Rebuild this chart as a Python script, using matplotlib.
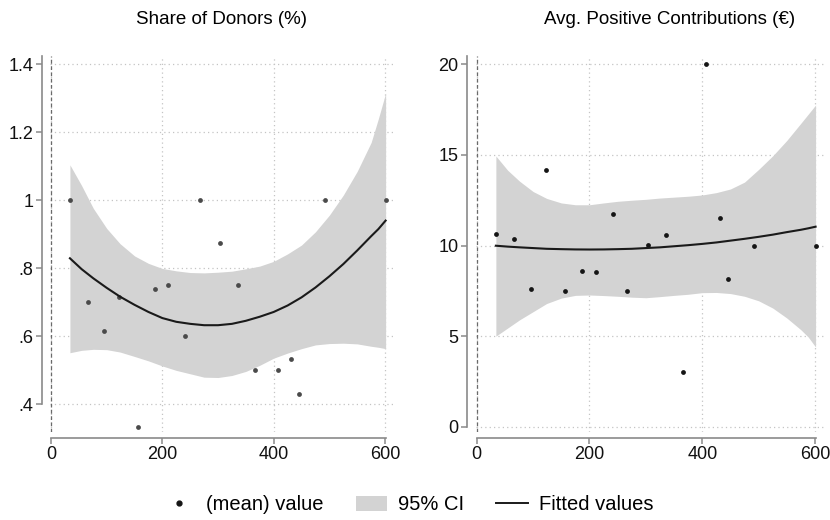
import matplotlib
matplotlib.use("Agg")
import matplotlib.pyplot as plt
from matplotlib.lines import Line2D
from matplotlib.patches import Patch

plt.rcParams['font.family'] = ['Liberation Sans', 'DejaVu Sans']

# group means (one point per group, same x in both panels)
x_obs = [34, 67, 96, 123, 156, 186, 211, 241, 267, 303, 335, 366, 407, 431, 446, 492, 602]
donors_share = [1.0, 0.70, 0.615, 0.715, 0.333, 0.74, 0.75, 0.60, 1.0, 0.875,
                0.75, 0.50, 0.50, 0.533, 0.429, 1.0, 1.0]
contrib_avg = [10.63, 10.34, 7.62, 14.19, 7.49, 8.61, 8.56, 11.76, 7.49, 10.05,
               10.56, 3.0, 20.0, 11.5, 8.17, 9.99, 10.0]

# quadratic fit with 95% CI
x_fit = [34, 55, 76, 100, 124, 150, 175, 200, 225, 250, 275, 300, 325,
         350, 375, 400, 425, 450, 475, 500, 525, 550, 575, 588, 601]
donors_fit = [0.829, 0.797, 0.770, 0.742, 0.716, 0.692, 0.671, 0.653, 0.642, 0.636,
              0.632, 0.632, 0.636, 0.645, 0.657, 0.671, 0.690, 0.714, 0.743, 0.776,
              0.812, 0.852, 0.894, 0.915, 0.940]
donors_hi = [1.104, 1.043, 0.976, 0.917, 0.872, 0.836, 0.814, 0.799, 0.792, 0.787,
             0.786, 0.788, 0.791, 0.798, 0.806, 0.820, 0.842, 0.868, 0.907, 0.956,
             1.015, 1.085, 1.170, 1.240, 1.315]
donors_lo = [0.551, 0.558, 0.561, 0.560, 0.553, 0.540, 0.527, 0.512, 0.499, 0.489,
             0.479, 0.478, 0.484, 0.496, 0.514, 0.535, 0.550, 0.563, 0.574, 0.578,
             0.579, 0.577, 0.570, 0.567, 0.563]
contrib_fit = [9.99, 9.94, 9.90, 9.86, 9.82, 9.80, 9.785, 9.78, 9.785, 9.80,
               9.82, 9.86, 9.90, 9.96, 10.02, 10.09, 10.17, 10.27, 10.37, 10.48,
               10.60, 10.74, 10.87, 10.95, 11.04]
contrib_hi = [14.94, 14.15, 13.55, 12.98, 12.60, 12.35, 12.25, 12.25, 12.35, 12.44,
              12.50, 12.55, 12.62, 12.67, 12.72, 12.79, 12.92, 13.12, 13.50, 14.20,
              14.95, 15.80, 16.75, 17.25, 17.75]
contrib_lo = [5.0, 5.45, 5.9, 6.35, 6.8, 7.1, 7.25, 7.27, 7.24, 7.2,
              7.15, 7.12, 7.18, 7.25, 7.31, 7.40, 7.41, 7.35, 7.2, 6.95,
              6.55, 6.0, 5.35, 4.95, 4.4]

titles = ["Share of Donors (%)", "Avg. Positive Contributions (\u20ac)"]
donors_yticks = [0.4, 0.6, 0.8, 1.0, 1.2, 1.4]
donors_ylabels = [".4", ".6", ".8", "1", "1.2", "1.4"]
contrib_yticks = [0, 5, 10, 15, 20]
contrib_ylabels = ["0", "5", "10", "15", "20"]
xticks = [0, 200, 400, 600]

BAND = "#d3d3d3"
AXIS = "#8a8a8a"
GRID = "#c4c4c4"

fig = plt.figure(figsize=(8.3, 5.2), dpi=100)
ax1 = fig.add_axes([0.0601, 0.1692, 0.4139, 0.7231])
ax2 = fig.add_axes([0.5730, 0.1692, 0.4205, 0.7231])


def draw_panel(ax, y_obs, fit, lo, hi, dot_color, yticks, ylabels, ylim, xlim, ybounds, left_off):
    ax.fill_between(x_fit, lo, hi, color=BAND, linewidth=0, zorder=1)
    ax.scatter(x_obs, y_obs, s=12, color=dot_color, zorder=3, linewidths=0)
    ax.plot(x_fit, fit, color="#1a1a1a", lw=1.5, zorder=4)
    ax.axvline(0, color="#6a6a6a", lw=0.9, ls=(0, (3, 2)), zorder=2)

    ax.set_xlim(*xlim)
    ax.set_ylim(*ylim)
    ax.set_xticks(xticks)
    ax.set_xticklabels([str(t) for t in xticks])
    ax.set_yticks(yticks)
    ax.set_yticklabels(ylabels)
    ax.grid(True, color=GRID, ls=(0, (1, 2.5)), lw=0.9, zorder=0)
    ax.set_axisbelow(True)

    for side in ("top", "right"):
        ax.spines[side].set_visible(False)
    ax.spines["left"].set_position(("outward", left_off))
    ax.spines["bottom"].set_position(("outward", 4))
    ax.spines["left"].set_bounds(*ybounds)
    ax.spines["bottom"].set_bounds(0, 602)
    for side in ("left", "bottom"):
        ax.spines[side].set_color(AXIS)
        ax.spines[side].set_linewidth(1.2)
    ax.tick_params(axis="both", direction="out", length=4, width=1.1,
                   color=AXIS, labelsize=13, labelcolor="#111111", pad=2)


draw_panel(ax1, donors_share, donors_fit, donors_lo, donors_hi, "#4a4a4a",
           donors_yticks, donors_ylabels, (0.3176, 1.4244), (-2, 615), (0.4, 1.4244), 6)
draw_panel(ax2, contrib_avg, contrib_fit, contrib_lo, contrib_hi, "#151515",
           contrib_yticks, contrib_ylabels, (-0.29, 20.458), (-2, 617), (0, 20.458), 6.4)

fig.text(221 / 830, 1 - 20 / 520, titles[0], ha="center", va="center", fontsize=13.5)
fig.text(670 / 830, 1 - 20 / 520, titles[1], ha="center", va="center", fontsize=13.5)

handles = [
    Line2D([], [], ls="none", marker="o", markersize=3.5, color="#151515"),
    Patch(facecolor=BAND, edgecolor="none"),
    Line2D([], [], color="#1a1a1a", lw=1.4),
]
labels = ["(mean) value", "95% CI", "Fitted values"]
fig.legend(handles, labels, loc="center", bbox_to_anchor=(0.492, 1 - 505 / 520), ncol=3,
           frameon=False, fontsize=14.5, handlelength=1.55, handletextpad=0.55,
           columnspacing=1.6)

fig.savefig("out.png", dpi=100)
